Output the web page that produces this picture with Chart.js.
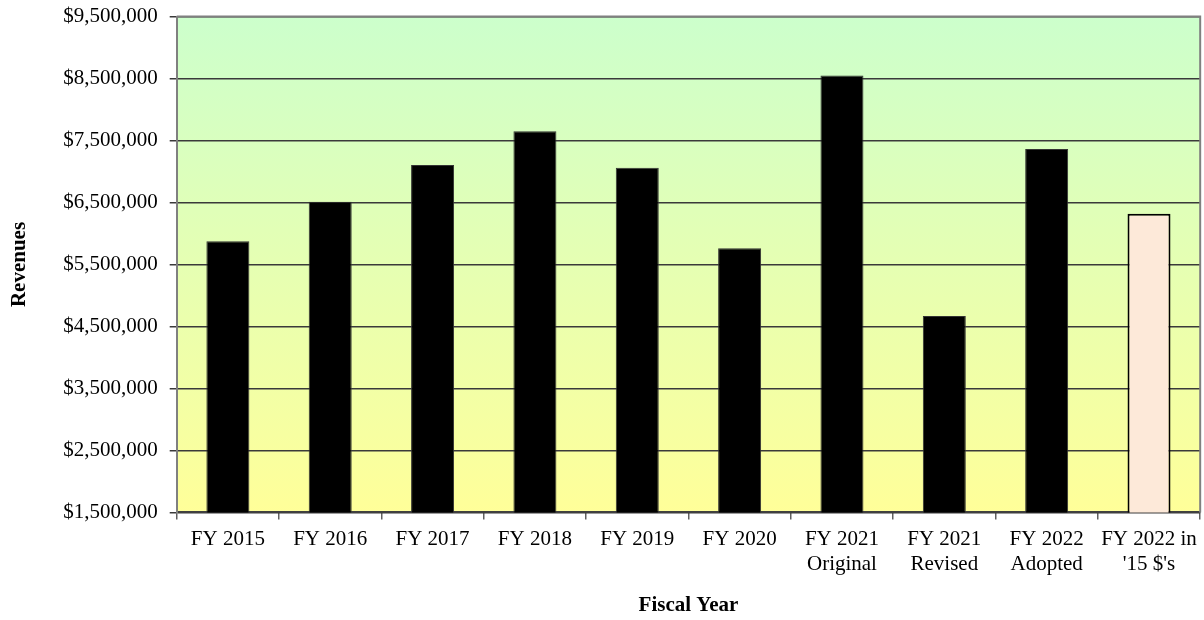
<!DOCTYPE html>
<html>
<head>
<meta charset="utf-8">
<script src="https://cdn.jsdelivr.net/npm/chart.js@4"></script>
<style>
	html, body { margin: 0; padding: 0; background: #fff; overflow: hidden; }
	#wrap { width: 1204px; height: 620px; overflow: hidden; }
	#revenueChart { display: block; margin-top: -8px; }
</style>
</head>
<body>
<div id="wrap"><canvas id="revenueChart" width="1204" height="628"></canvas></div>
<script>
const fiscalYears = [
	"FY 2015",
	"FY 2016",
	"FY 2017",
	"FY 2018",
	"FY 2019",
	"FY 2020",
	["FY 2021", "Original"],
	["FY 2021", "Revised"],
	["FY 2022", "Adopted"],
	["FY 2022 in", "'15 $'s"],
];
const revenues = [
	5876000, 6513000, 7104000, 7649000, 7062000, 5763000, 8548000, 4671000,
	7363000, 6319000,
];
const barColors = [
	"#000000", "#000000", "#000000", "#000000", "#000000",
	"#000000", "#000000", "#000000", "#000000", "#FDE9D9",
];
const yMin = 1500000;
const yMax = 9500000;
const yStep = 1000000;

const revenueCanvas = document.getElementById("revenueChart");

// gradient fill + frame of the plot area
const plotBackground = {
	id: "plotBackground",
	beforeDraw(chart) {
		const { ctx, chartArea: a } = chart;
		const g = ctx.createLinearGradient(0, a.top, 0, a.bottom);
		g.addColorStop(0, "#CCFFCC");
		g.addColorStop(1, "#FFFF99");
		ctx.save();
		ctx.fillStyle = g;
		ctx.fillRect(a.left, a.top, a.right - a.left, a.bottom - a.top);
		ctx.restore();
	},
	afterDraw(chart) {
		const { ctx, chartArea: a } = chart;
		ctx.save();
		ctx.strokeStyle = "#808080";
		ctx.lineWidth = 2;
		ctx.beginPath();
		ctx.moveTo(a.left, a.top);
		ctx.lineTo(a.right, a.top);
		ctx.lineTo(a.right, a.bottom);
		ctx.stroke();
		ctx.restore();
	},
};

new Chart(revenueCanvas, {
	type: "bar",
	data: {
		labels: fiscalYears,
		datasets: [
			{
				data: revenues,
				backgroundColor: barColors,
				borderColor: barColors.map((c) => (c === "#000000" ? "#333333" : "#000000")),
				borderWidth: barColors.map((c) => (c === "#000000" ? 1 : 2)),
				borderSkipped: false,
				barPercentage: 0.42,
				categoryPercentage: 1,
			},
		],
	},
	options: {
		responsive: false,
		animation: false,
		layout: {
			padding: { top: 0, right: 3, left: 4, bottom: 2 },
		},
		plugins: {
			legend: { display: false },
			tooltip: { enabled: false },
		},
		scales: {
			x: {
				offset: true,
				grid: {
					offset: true,
					drawOnChartArea: false,
					drawTicks: true,
					tickLength: 7,
					color: "#606060",
					lineWidth: 1.5,
				},
				border: { color: "#404040", width: 2 },
				ticks: {
					color: "#000",
					font: { family: "Liberation Serif", size: 21 },
					padding: 7,
					maxRotation: 0,
					autoSkip: false,
				},
				title: {
					display: true,
					text: "Fiscal Year",
					color: "#000",
					font: { family: "Liberation Serif", size: 21, weight: "bold" },
					padding: { top: 9, bottom: 0 },
				},
			},
			y: {
				min: yMin,
				max: yMax,
				grid: {
					color: "#3a3a3a",
					lineWidth: 1.5,
					drawTicks: true,
					tickLength: 7,
				},
				border: { color: "#808080", width: 2 },
				ticks: {
					stepSize: yStep,
					color: "#000",
					font: { family: "Liberation Serif", size: 21 },
					padding: 12,
					callback: (v) => "$" + v.toLocaleString("en-US"),
				},
				title: {
					display: true,
					text: "Revenues",
					color: "#000",
					font: { family: "Liberation Serif", size: 21, weight: "bold" },
					padding: { top: 3, bottom: 19 },
				},
			},
		},
	},
	plugins: [plotBackground],
});
</script>
</body>
</html>
